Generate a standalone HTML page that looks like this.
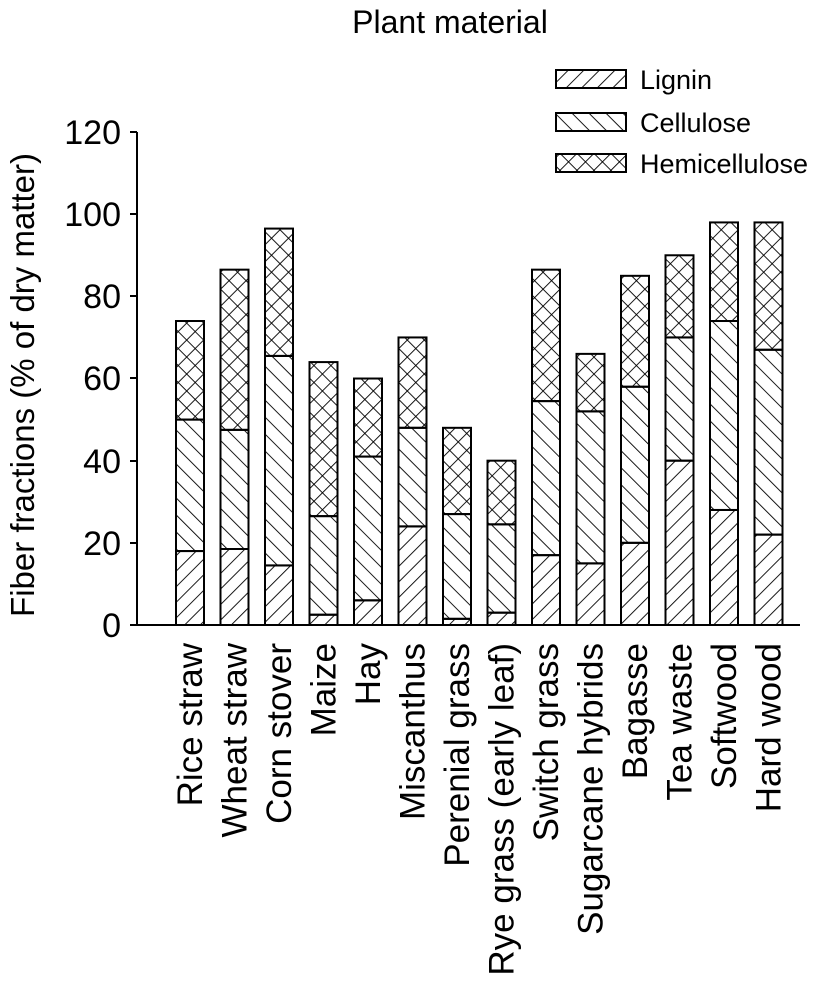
<!DOCTYPE html>
<html><head><style>body{margin:0;background:#fff}</style></head><body>
<svg width="827" height="982" xmlns="http://www.w3.org/2000/svg" font-family="Liberation Sans, Arial, sans-serif">
<defs>
<pattern id="lig" width="11" height="11" patternUnits="userSpaceOnUse" patternTransform="rotate(45)"><line x1="0" y1="0" x2="0" y2="11" stroke="#000" stroke-width="1.8"/></pattern>
<pattern id="cel" width="12" height="12" patternUnits="userSpaceOnUse" patternTransform="rotate(-45)"><line x1="0" y1="0" x2="0" y2="12" stroke="#000" stroke-width="1.8"/></pattern>
<pattern id="hem" width="12" height="12" patternUnits="userSpaceOnUse" patternTransform="rotate(45)"><line x1="0" y1="0" x2="0" y2="12" stroke="#000" stroke-width="1.8"/><line x1="0" y1="0" x2="12" y2="0" stroke="#000" stroke-width="1.8"/></pattern>
</defs>
<text x="450" y="33" font-size="32" text-anchor="middle">Plant material</text>
<g id="bars" stroke="#000" stroke-width="2"></g>
<line x1="137" y1="132" x2="137" y2="626" stroke="#000" stroke-width="2"/>
<line x1="136" y1="625" x2="800" y2="625" stroke="#000" stroke-width="2"/>
<g font-size="34" text-anchor="end">
<text x="121" y="637">0</text><text x="121" y="555">20</text><text x="121" y="473">40</text><text x="121" y="390">60</text><text x="121" y="308">80</text><text x="121" y="226">100</text><text x="121" y="144">120</text>
</g>
<g stroke="#000" stroke-width="2">
<line x1="130" y1="625" x2="137" y2="625"/><line x1="130" y1="543" x2="137" y2="543"/><line x1="130" y1="461" x2="137" y2="461"/><line x1="130" y1="378" x2="137" y2="378"/><line x1="130" y1="296" x2="137" y2="296"/><line x1="130" y1="214" x2="137" y2="214"/><line x1="130" y1="132" x2="137" y2="132"/>
</g>
<text transform="translate(34,385) rotate(-90)" font-size="33" text-anchor="middle">Fiber fractions (% of dry matter)</text>
<g stroke="#000" stroke-width="2">
<rect x="556" y="70" width="70" height="18" fill="url(#lig)"/>
<rect x="556" y="113" width="70" height="18" fill="url(#cel)"/>
<rect x="556" y="154" width="70" height="18" fill="url(#hem)"/>
</g>
<g font-size="27"><text x="640" y="89">Lignin</text><text x="640" y="132">Cellulose</text><text x="640" y="173">Hemicellulose</text></g>
<g id="labels" font-size="35" text-anchor="end"></g>
<script>
var d=[["Rice straw",18,50,74],["Wheat straw",18.5,47.5,86.5],["Corn stover",14.5,65.5,96.5],["Maize",2.5,26.5,64],["Hay",6,41,60],["Miscanthus",24,48,70],["Perenial grass",1.5,27,48],["Rye grass (early leaf)",3,24.5,40],["Switch grass",17,54.5,86.5],["Sugarcane hybrids",15,52,66],["Bagasse",20,58,85],["Tea waste",40,70,90],["Softwood",28,74,98],["Hard wood",22,67,98]];
var ns="http://www.w3.org/2000/svg",b=document.getElementById("bars"),l=document.getElementById("labels");
function Y(v){return 625-v*4.108;}
d.forEach(function(r,i){var x=176+i*44.5;var segs=[[0,r[1],"lig"],[r[1],r[2],"cel"],[r[2],r[3],"hem"]];
segs.forEach(function(s){var e=document.createElementNS(ns,"rect");e.setAttribute("x",x);e.setAttribute("width",28);e.setAttribute("y",Y(s[1]));e.setAttribute("height",Y(s[0])-Y(s[1]));e.setAttribute("fill","url(#"+s[2]+")");b.appendChild(e);});
var t=document.createElementNS(ns,"text");t.setAttribute("transform","translate("+(x+26)+",643) rotate(-90)");t.textContent=r[0];l.appendChild(t);});
</script>
</svg>
</body></html>
